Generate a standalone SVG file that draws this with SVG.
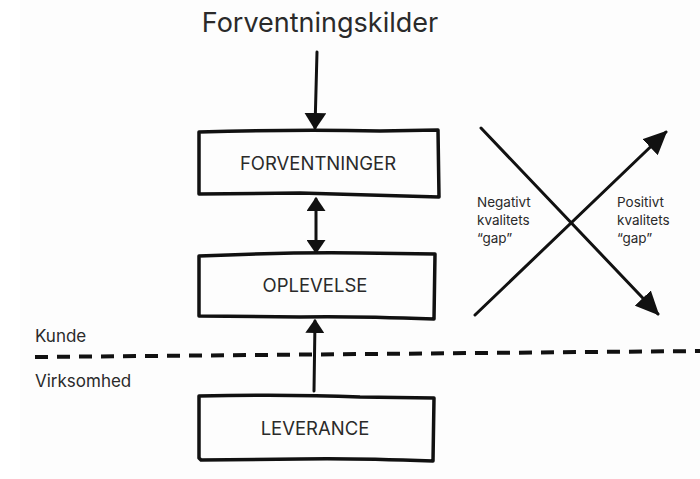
<svg xmlns="http://www.w3.org/2000/svg" width="700" height="479" viewBox="0 0 700 479">
<style>
.box{fill:none;stroke:#111;stroke-width:3.5;stroke-linejoin:round;stroke-linecap:round}
.ln{fill:none;stroke:#111;stroke-width:3;stroke-linecap:round}
.t{font-family:Inter,"Liberation Sans",sans-serif;fill:#2a2a2a}
.bt{font-size:18.5px;text-anchor:middle}
.sm{font-size:13.5px}
</style>
<defs>
<marker id="big" viewBox="0 0 17 22" refX="15" refY="11" markerWidth="17" markerHeight="22" markerUnits="userSpaceOnUse" orient="auto-start-reverse">
<path d="M0,0 L17,11 L0,22 z" fill="#111"/>
</marker>
<marker id="sml" viewBox="0 0 14 19" refX="12" refY="9.5" markerWidth="14" markerHeight="19" markerUnits="userSpaceOnUse" orient="auto-start-reverse">
<path d="M0,0 L14,9.5 L0,19 z" fill="#111"/>
</marker>
<marker id="xh" viewBox="0 0 24 22" refX="22" refY="11" markerWidth="24" markerHeight="22" markerUnits="userSpaceOnUse" orient="auto">
<path d="M0,0 L24,11 L0,22 z" fill="#111"/>
</marker>
</defs>
<rect width="700" height="479" fill="#ffffff"/>
<rect x="20" width="680" height="479" fill="#fdfdfd"/>
<text class="t" x="320" y="32" font-size="27" text-anchor="middle">Forventningskilder</text>
<g id="connectors">
<line class="ln" x1="317" y1="52" x2="315" y2="128" marker-end="url(#big)"/>
<line class="ln" x1="316" y1="199" x2="316" y2="252" marker-start="url(#sml)" marker-end="url(#sml)"/>
<line class="ln" x1="314" y1="391" x2="315" y2="321" marker-end="url(#sml)"/>
<path class="ln" d="M481,128 L658,314" marker-end="url(#xh)"/>
<path class="ln" d="M475,315 L666,132" marker-end="url(#xh)"/>
<path d="M35,357 L700,351" fill="none" stroke="#111" stroke-width="4" stroke-dasharray="13,9"/>
</g>
<g id="forventninger">
<path class="box" d="M199,132 Q300,129 380,131 L438,130 L439,197 Q360,195 300,193 L199,194 Z"/>
<text class="t bt" x="318" y="170">FORVENTNINGER</text>
</g>
<g id="oplevelse">
<path class="box" d="M199,256 Q290,252 360,253 L435,254 L434,319 Q350,316 300,317 L199,316 Z"/>
<text class="t bt" x="315" y="292">OPLEVELSE</text>
</g>
<g id="leverance">
<path class="box" d="M199,396 Q290,394 360,397 L434,398 L433,461 Q350,458 300,459 L201,460 L199,458 Z"/>
<text class="t bt" x="315" y="435">LEVERANCE</text>
</g>
<text class="t" x="35" y="342" font-size="17">Kunde</text>
<text class="t" x="35" y="387" font-size="17">Virksomhed</text>
<g id="negativ">
<text class="t sm" x="477" y="207">Negativt</text>
<text class="t sm" x="477" y="225">kvalitets</text>
<text class="t sm" x="477" y="243">“gap”</text>
</g>
<g id="positiv">
<text class="t sm" x="617" y="207">Positivt</text>
<text class="t sm" x="617" y="225">kvalitets</text>
<text class="t sm" x="617" y="243">“gap”</text>
</g>
</svg>
